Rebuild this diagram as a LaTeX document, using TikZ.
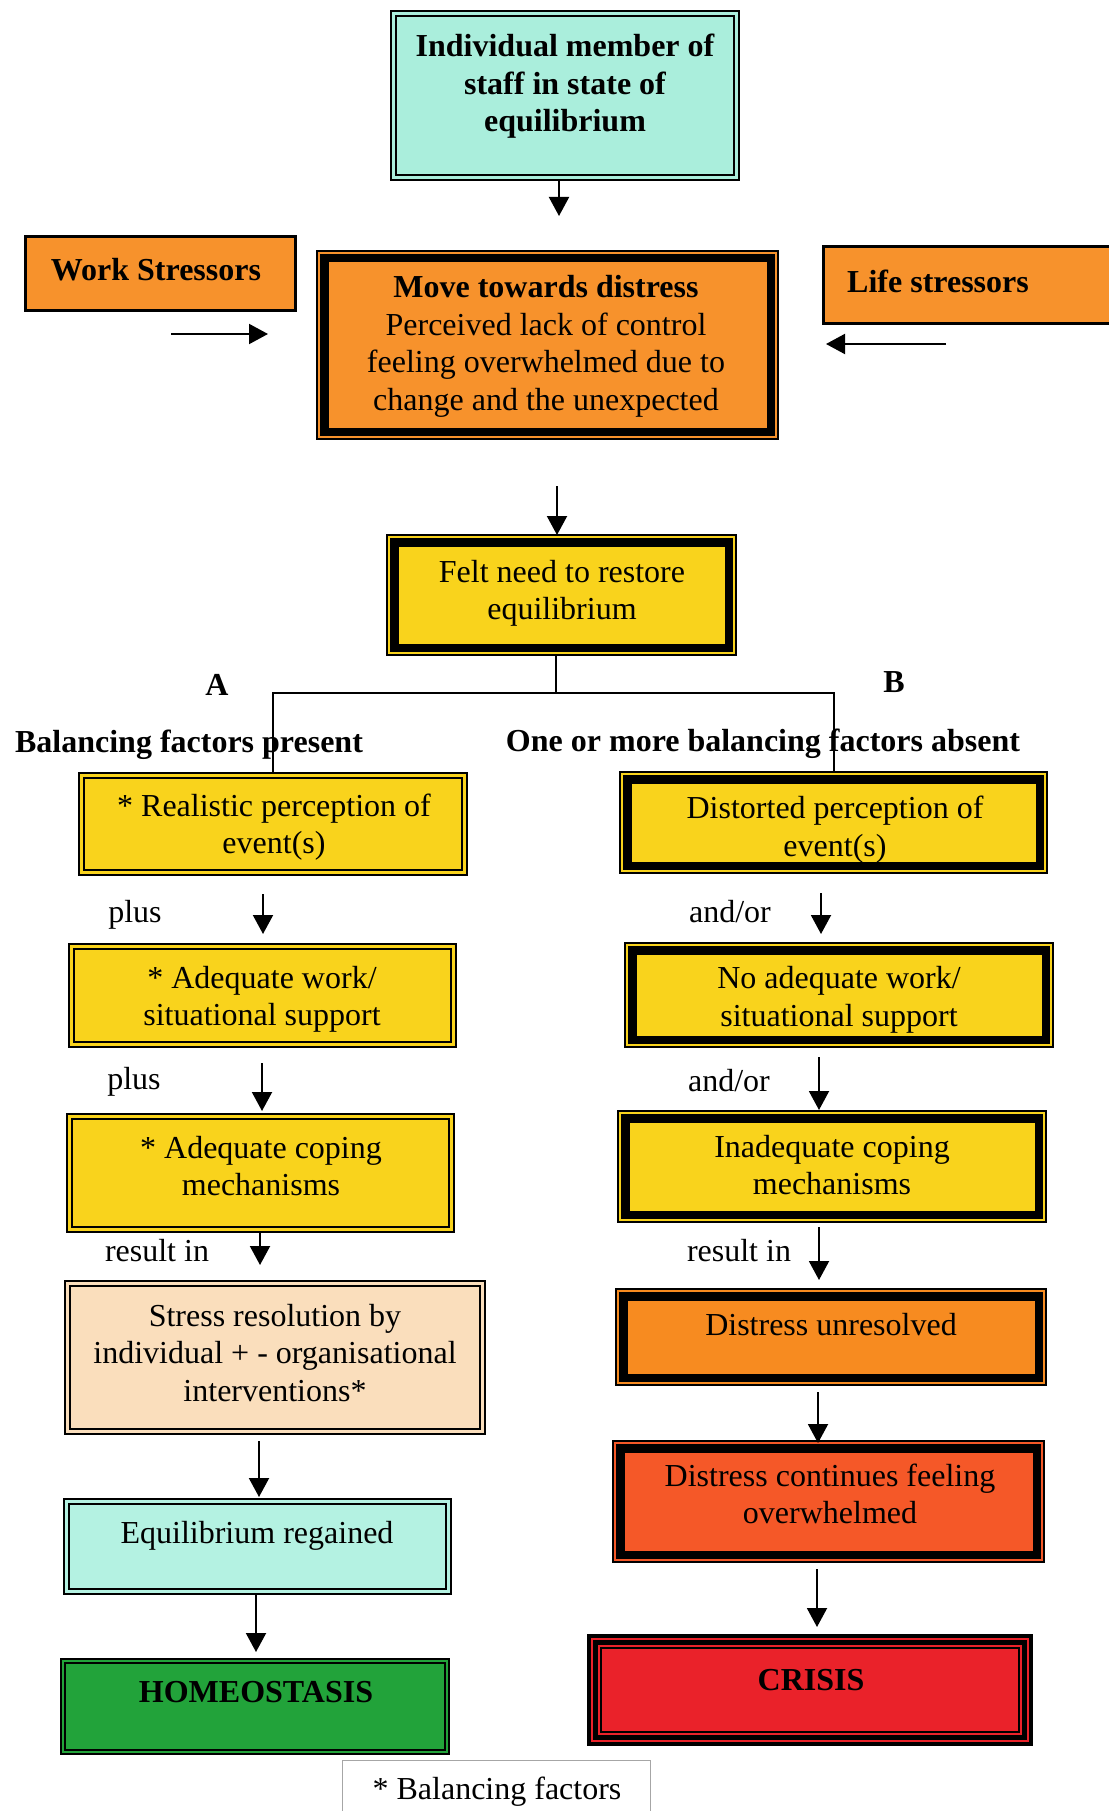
\documentclass[tikz,border=0pt]{standalone}
\usepackage{fontspec}
\setmainfont{Liberation Serif}
\usetikzlibrary{arrows.meta}
\definecolor{cteal}{RGB}{170,238,220}
\definecolor{cteal2}{RGB}{180,242,226}
\definecolor{corange}{RGB}{247,146,44}
\definecolor{cyellow}{RGB}{249,211,28}
\definecolor{cpeach}{RGB}{250,222,188}
\definecolor{cgreen}{RGB}{34,163,58}
\definecolor{cunres}{RGB}{247,139,32}
\definecolor{ccont}{RGB}{245,88,40}
\definecolor{ccrisis}{RGB}{234,34,42}
\newcommand{\fsz}{\fontsize{32}{37.5}\selectfont}
\newcommand{\mybox}[7]{\node[bx, fill=#6, line width=#7, minimum width={#4-#2}, minimum height={#5-#3}] (#1) at ({(#2+#4)/2},{(#3+#5)/2}) {};}
\newcommand{\inframe}[4]{\draw[line width=#3, draw=#4] ([shift={(#2,#2)}]#1.north west) rectangle ([shift={(-#2,-#2)}]#1.south east);}
\newcommand{\varr}[4]{\coordinate (#1s) at (#2,#3); \coordinate (#1e) at (#2,#4); \draw[arr] (#1s) -- (#1e);}
\begin{document}
\begin{tikzpicture}[x=1pt,y=-1pt,
  bx/.style={draw=black, inner sep=0pt, outer sep=0pt},
  tx/.style={align=center, inner sep=0pt, font=\fsz},
  btx/.style={align=center, inner sep=0pt, font=\fsz\bfseries},
  arr/.style={line width=2pt, -{Triangle[length=19pt,width=20pt]}},
  ln/.style={line width=2pt}]
\useasboundingbox (0,0) rectangle (1108,1811);
% ---------- boxes ----------
\mybox{top}{391}{11}{739}{180}{cteal}{2.5}
\inframe{top}{5}{1.5}{black}
\mybox{ws}{25}{237}{295}{310}{corange}{3}
\mybox{dist}{317}{251}{778}{439}{corange}{1.5}
\inframe{dist}{7.25}{8.5}{black}
\mybox{life}{823}{247}{1120}{323}{corange}{3}
\mybox{felt}{387}{535}{736}{655}{cyellow}{1.5}
\inframe{felt}{7.25}{8.5}{black}
% left column
\mybox{real}{79}{773}{467}{875}{cyellow}{2}
\inframe{real}{5}{2}{black}
\mybox{adw}{69}{944}{456}{1047}{cyellow}{2}
\inframe{adw}{5}{2}{black}
\mybox{adc}{67}{1114}{454}{1232}{cyellow}{2}
\inframe{adc}{5}{2}{black}
\mybox{res}{65}{1281}{485}{1434}{cpeach}{2.5}
\inframe{res}{5}{2.5}{black}
\mybox{eqr}{64}{1499}{451}{1594}{cteal2}{2.5}
\inframe{eqr}{5}{2}{black}
\mybox{homeo}{61}{1659}{449}{1754}{cgreen}{2}
\inframe{homeo}{4}{2}{black}
% right column
\mybox{dst}{620}{772}{1047}{873}{cyellow}{2.5}
\inframe{dst}{7.25}{8.5}{black}
\mybox{nadw}{625}{943}{1053}{1047}{cyellow}{2.5}
\inframe{nadw}{7.25}{8.5}{black}
\mybox{inc}{618}{1111}{1046}{1222}{cyellow}{2.5}
\inframe{inc}{7.25}{8.5}{black}
\mybox{unr}{616}{1289}{1046}{1385}{cunres}{2.5}
\inframe{unr}{7.25}{8.5}{black}
\mybox{cont}{613}{1441}{1044}{1562}{ccont}{2.5}
\inframe{cont}{7.25}{8.5}{black}
\mybox{crisis}{588}{1635}{1032}{1745}{ccrisis}{1.5}
\inframe{crisis}{7.5}{13}{black}
\inframe{crisis}{4}{1.8}{ccrisis}
\inframe{crisis}{11}{1.8}{ccrisis}
\node[bx, draw=gray!70, line width=1pt, fill=white, minimum width=308, minimum height=65] (bal) at (496,1793) {};
% ---------- connectors ----------
\coordinate (a1) at (559,216);
\draw[arr] (a1 |- top.south) -- (a1);
\coordinate (ws1) at (171,334); \coordinate (ws2) at (268,334);
\draw[arr] (ws1) -- (ws2);
\coordinate (lf1) at (946,344); \coordinate (lf2) at (826,344);
\draw[arr] (lf1) -- (lf2);
\coordinate (a2) at (557,486);
\draw[arr] (a2) -- (a2 |- felt.north);
\coordinate (jn) at (556,693);
\draw[ln] (jn |- felt.south) -- (jn);
\draw[ln] (real.north) |- (jn) -| (dst.north);
% left arrows
\varr{la}{263}{894}{934}
\varr{lb}{262}{1063}{1111}
\varr{lc}{260}{1233}{1265}
\varr{ld}{259}{1441}{1497}
\varr{le}{256}{1595}{1652}
% right arrows
\varr{ra}{821}{893}{934}
\varr{rb}{819}{1057}{1110}
\varr{rc}{819}{1227}{1280}
\varr{rd}{818}{1392}{1443}
\varr{re}{817}{1569}{1627}
% ---------- texts ----------
\node[btx] (ttop) at (565,86.5) {Individual member of\\staff in state of\\equilibrium};
\node[btx] (tws) at (156,270) {Work Stressors};
\node[tx] (tdist) at (546,346.5) {\textbf{Move towards distress}\\Perceived lack of control\\feeling overwhelmed due to\\change and the unexpected};
\node[btx, anchor=west] (tlife) at (847,281) {Life stressors};
\node[tx] (tfelt) at (562,593.5) {Felt need to restore\\equilibrium};
\node[btx] (tA) at (217,685) {A};
\node[btx] (tB) at (894,682) {B};
\node[btx] (tbal1) at (189,744.5) {Balancing factors present};
\node[btx] (tbal2) at (763,743.5) {One or more balancing factors absent};
\node[tx] (treal) at (274,827) {* Realistic perception of\\event(s)};
\node[tx] (tadw) at (262,999.5) {* Adequate work/\\situational support};
\node[tx] (tadc) at (261,1166) {* Adequate coping\\mechanisms};
\node[tx] (tres) at (275,1353) {Stress resolution by\\individual + - organisational\\interventions*};
\node[tx] (teqr) at (257,1535.5) {Equilibrium regained};
\node[btx] (thomeo) at (256,1692) {HOMEOSTASIS};
\node[tx] (tdst) at (835,829.5) {Distorted perception of\\event(s)};
\node[tx] (tnadw) at (839,1000) {No adequate work/\\situational support};
\node[tx] (tinc) at (832,1165) {Inadequate coping\\mechanisms};
\node[tx] (tunr) at (831,1325) {Distress unresolved};
\node[tx] (tcont) at (830,1494) {Distress continues feeling\\overwhelmed};
\node[btx] (tcrisis) at (811,1680) {CRISIS};
\node[tx] (tbal) at (497,1792) {* Balancing factors};
% small labels
\node[tx] (p1) at (135,914.5) {plus};
\node[tx] (p2) at (134,1082) {plus};
\node[tx] (p3) at (157,1251) {result in};
\node[tx] (q1) at (730,912) {and/or};
\node[tx] (q2) at (729,1081) {and/or};
\node[tx] (q3) at (739,1251) {result in};
\end{tikzpicture}
\end{document}
